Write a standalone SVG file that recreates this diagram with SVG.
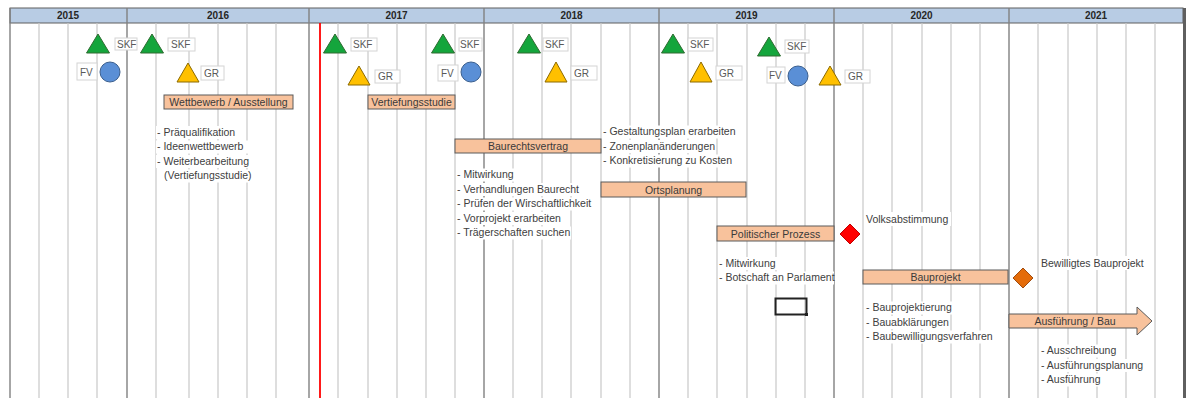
<svg xmlns="http://www.w3.org/2000/svg" width="1188" height="398" viewBox="0 0 1188 398">
<style>
.minor{stroke:#c8c8c8;stroke-width:1.2}
.major{stroke:#808080;stroke-width:1.4}
.yr{font-family:"Liberation Sans",Arial,sans-serif;font-weight:bold;font-size:10px;fill:#262626;text-anchor:middle}
.t{font-family:"Liberation Sans",Arial,sans-serif;font-size:10.5px;fill:#404040}
.bg{fill:#ffffff}
.bar{fill:#f8c29c;stroke:#5a5a5a;stroke-width:1}
.bt{font-family:"Liberation Sans",Arial,sans-serif;font-size:10.5px;fill:#3a3a3a;text-anchor:middle}
.lb{fill:#ffffff;stroke:#d4d4d4;stroke-width:1}
.lt{font-family:"Liberation Sans",Arial,sans-serif;font-size:10px;fill:#595959}
.g{fill:#14a53c;stroke:#2e6b30;stroke-width:1}
.y{fill:#ffc000;stroke:#8c6a00;stroke-width:1}
.c{fill:#5a8fd6;stroke:#3b5f8e;stroke-width:1}
</style>
<rect width="1188" height="398" fill="#ffffff"/>
<g id="header">
<rect x="10" y="8" width="1173" height="15" fill="#b8cce4" stroke="#5f5f5f" stroke-width="1"/>
<text class="yr" x="68" y="19">2015</text>
<text class="yr" x="218" y="19">2016</text>
<text class="yr" x="396.5" y="19">2017</text>
<text class="yr" x="571.5" y="19">2018</text>
<text class="yr" x="746.5" y="19">2019</text>
<text class="yr" x="921.5" y="19">2020</text>
<text class="yr" x="1096" y="19">2021</text>
</g>
<g id="grid">
<g class="minor">
<line x1="39" y1="23" x2="39" y2="398"/><line x1="68" y1="23" x2="68" y2="398"/><line x1="97" y1="23" x2="97" y2="398"/>
<line x1="156" y1="23" x2="156" y2="398"/><line x1="189" y1="23" x2="189" y2="398"/><line x1="218" y1="23" x2="218" y2="398"/><line x1="247" y1="23" x2="247" y2="398"/><line x1="276" y1="23" x2="276" y2="398"/>
<line x1="338" y1="23" x2="338" y2="398"/><line x1="368" y1="23" x2="368" y2="398"/><line x1="397" y1="23" x2="397" y2="398"/><line x1="426" y1="23" x2="426" y2="398"/><line x1="455" y1="23" x2="455" y2="398"/>
<line x1="513" y1="23" x2="513" y2="398"/><line x1="542" y1="23" x2="542" y2="398"/><line x1="571" y1="23" x2="571" y2="398"/><line x1="601" y1="23" x2="601" y2="398"/><line x1="630" y1="23" x2="630" y2="398"/>
<line x1="688" y1="23" x2="688" y2="398"/><line x1="717" y1="23" x2="717" y2="398"/><line x1="747" y1="23" x2="747" y2="398"/><line x1="776" y1="23" x2="776" y2="398"/><line x1="805" y1="23" x2="805" y2="398"/>
<line x1="863" y1="23" x2="863" y2="398"/><line x1="892" y1="23" x2="892" y2="398"/><line x1="922" y1="23" x2="922" y2="398"/><line x1="951" y1="23" x2="951" y2="398"/><line x1="980" y1="23" x2="980" y2="398"/>
<line x1="1038" y1="23" x2="1038" y2="398"/><line x1="1068" y1="23" x2="1068" y2="398"/><line x1="1097" y1="23" x2="1097" y2="398"/><line x1="1126" y1="23" x2="1126" y2="398"/><line x1="1155" y1="23" x2="1155" y2="398"/>
</g>
<g class="major">
<line x1="10" y1="8" x2="10" y2="398"/><line x1="127" y1="8" x2="127" y2="398"/><line x1="309" y1="8" x2="309" y2="398"/><line x1="484" y1="8" x2="484" y2="398"/><line x1="659" y1="8" x2="659" y2="398"/><line x1="834" y1="8" x2="834" y2="398"/><line x1="1009" y1="8" x2="1009" y2="398"/>
</g>
<line x1="1184.5" y1="8" x2="1184.5" y2="398" stroke="#5f5f5f" stroke-width="3"/>
<line x1="320" y1="23" x2="320" y2="398" stroke="#ff0000" stroke-width="1.8"/>
</g>
<g id="milestones">
<g id="skf1"><polygon class="g" points="98,34 86.5,53 109.5,53"/><rect class="lb" x="115" y="38" width="22" height="12"/><text class="lt" x="117" y="47.5">SKF</text></g>
<g id="skf2"><polygon class="g" points="152,34 140.5,53 163.5,53"/><rect class="lb" x="168" y="38" width="27" height="13"/><text class="lt" x="171" y="48">SKF</text></g>
<g id="skf3"><polygon class="g" points="335,34 323.5,53 346.5,53"/><rect class="lb" x="351" y="38" width="26" height="13"/><text class="lt" x="353" y="48">SKF</text></g>
<g id="skf4"><polygon class="g" points="443,34 431.5,53 454.5,53"/><rect class="lb" x="459" y="38" width="23" height="13"/><text class="lt" x="460" y="48">SKF</text></g>
<g id="skf5"><polygon class="g" points="529,34 517.5,53 540.5,53"/><rect class="lb" x="543" y="38" width="25" height="13"/><text class="lt" x="545" y="48">SKF</text></g>
<g id="skf6"><polygon class="g" points="673,34 661.5,53 684.5,53"/><rect class="lb" x="688" y="38" width="25" height="13"/><text class="lt" x="690" y="48">SKF</text></g>
<g id="skf7"><polygon class="g" points="769,37 757.5,56 780.5,56"/><rect class="lb" x="785" y="40" width="24" height="13"/><text class="lt" x="787" y="50">SKF</text></g>
<g id="fv1"><circle class="c" cx="110" cy="72" r="10"/><rect class="lb" x="77" y="63" width="20" height="17"/><text class="lt" x="80" y="75.5">FV</text></g>
<g id="fv2"><circle class="c" cx="471" cy="72" r="10"/><rect class="lb" x="438" y="65" width="20" height="16"/><text class="lt" x="441" y="76.5">FV</text></g>
<g id="fv3"><circle class="c" cx="798" cy="76" r="10"/><rect class="lb" x="767" y="67" width="18" height="16"/><text class="lt" x="769" y="79">FV</text></g>
<g id="gr1"><polygon class="y" points="188,63 177,82 199,82"/><rect class="lb" x="201" y="66" width="23" height="14"/><text class="lt" x="204" y="76.5">GR</text></g>
<g id="gr2"><polygon class="y" points="359,66 348,85 370,85"/><rect class="lb" x="375" y="70" width="25" height="13"/><text class="lt" x="378" y="80">GR</text></g>
<g id="gr3"><polygon class="y" points="556,62 545,82 567,82"/><rect class="lb" x="571" y="66" width="26" height="14"/><text class="lt" x="574" y="76.5">GR</text></g>
<g id="gr4"><polygon class="y" points="701,62 690,82 712,82"/><rect class="lb" x="716" y="66" width="26" height="14"/><text class="lt" x="719" y="76.5">GR</text></g>
<g id="gr5"><polygon class="y" points="830,66 819,85 841,85"/><rect class="lb" x="845" y="70" width="25" height="13"/><text class="lt" x="848" y="80">GR</text></g>
<g id="volksabstimmung"><polygon points="850,224 860,234 850,244 840,234" fill="#ff0000" stroke="#c00000" stroke-width="1"/><rect class="bg" x="865" y="212" width="86" height="14"/><text class="t" x="866" y="223">Volksabstimmung</text></g>
<g id="bewilligt"><polygon points="1023,268 1033,278 1023,288 1013,278" fill="#e46c0a" stroke="#a04c10" stroke-width="1"/><rect class="bg" x="1040" y="256" width="105" height="14"/><text class="t" x="1041" y="267">Bewilligtes Bauprojekt</text></g>
</g>
<g id="wettbewerb">
<rect class="bar" x="164" y="95" width="129" height="14"/><text class="bt" x="228.5" y="106">Wettbewerb / Ausstellung</text>
<rect class="bg" x="156" y="126" width="80" height="13"/><text class="t" x="157" y="135.5">- Präqualifikation</text>
<rect class="bg" x="156" y="140.5" width="95" height="13"/><text class="t" x="157" y="150">- Ideenwettbewerb</text>
<rect class="bg" x="156" y="155" width="98" height="13"/><text class="t" x="157" y="164.5">- Weiterbearbeitung</text>
<rect class="bg" x="163" y="169.5" width="90" height="13"/><text class="t" x="164" y="179">(Vertiefungsstudie)</text>
</g>
<g id="vertiefung">
<rect class="bar" x="368" y="95" width="87" height="14"/><text class="bt" x="411.5" y="106">Vertiefungsstudie</text>
</g>
<g id="baurecht">
<rect class="bar" x="455" y="139" width="146" height="14"/><text class="bt" x="528" y="150">Baurechtsvertrag</text>
<rect class="bg" x="456" y="168.5" width="63" height="13"/><text class="t" x="457" y="178">- Mitwirkung</text>
<rect class="bg" x="456" y="183" width="124" height="13"/><text class="t" x="457" y="192.5">- Verhandlungen Baurecht</text>
<rect class="bg" x="456" y="197.5" width="138" height="13"/><text class="t" x="457" y="207">- Prüfen der Wirschaftlichkeit</text>
<rect class="bg" x="456" y="212" width="112" height="13"/><text class="t" x="457" y="221.5">- Vorprojekt erarbeiten</text>
<rect class="bg" x="456" y="226.5" width="115" height="13"/><text class="t" x="457" y="236">- Trägerschaften suchen</text>
</g>
<g id="ortsplanung">
<rect class="bar" x="601" y="182" width="145" height="15"/><text class="bt" x="673.5" y="193.5">Ortsplanung</text>
<rect class="bg" x="602" y="125.5" width="134" height="13"/><text class="t" x="603" y="135">- Gestaltungsplan erarbeiten</text>
<rect class="bg" x="602" y="140" width="110" height="13"/><text class="t" x="603" y="149.5">- Zonenplanänderungen</text>
<rect class="bg" x="602" y="154.5" width="133" height="13"/><text class="t" x="603" y="164">- Konkretisierung zu Kosten</text>
</g>
<g id="politisch">
<rect class="bar" x="717" y="226" width="117" height="15"/><text class="bt" x="775.5" y="237.5">Politischer Prozess</text>
<rect class="bg" x="718" y="257" width="64" height="13"/><text class="t" x="719" y="266.5">- Mitwirkung</text>
<rect class="bg" x="718" y="271.5" width="116" height="13"/><text class="t" x="719" y="281">- Botschaft an Parlament</text>
</g>
<g id="marker-box">
<rect x="775.5" y="298.5" width="31" height="16" fill="none" stroke="#222222" stroke-width="2"/>
<rect x="805" y="313" width="3" height="3" fill="#222222"/>
</g>
<g id="bauprojekt">
<rect class="bar" x="863" y="270" width="145" height="14"/><text class="bt" x="935.5" y="281">Bauprojekt</text>
<rect class="bg" x="865" y="301.5" width="89" height="13"/><text class="t" x="866" y="311">- Bauprojektierung</text>
<rect class="bg" x="865" y="316" width="84" height="13"/><text class="t" x="866" y="325.5">- Bauabklärungen</text>
<rect class="bg" x="865" y="330.5" width="128" height="13"/><text class="t" x="866" y="340">- Baubewilligungsverfahren</text>
</g>
<g id="ausfuehrung">
<path d="M1009,314 H1137 V307 L1152,321 L1137,335 V328 H1009 Z" fill="#f8c29c" stroke="#5a5a5a" stroke-width="1"/>
<text class="bt" x="1075" y="325">Ausführung / Bau</text>
<rect class="bg" x="1040" y="344.5" width="78" height="13"/><text class="t" x="1041" y="354">- Ausschreibung</text>
<rect class="bg" x="1040" y="359" width="104" height="13"/><text class="t" x="1041" y="368.5">- Ausführungsplanung</text>
<rect class="bg" x="1040" y="373.5" width="63" height="13"/><text class="t" x="1041" y="383">- Ausführung</text>
</g>
</svg>
